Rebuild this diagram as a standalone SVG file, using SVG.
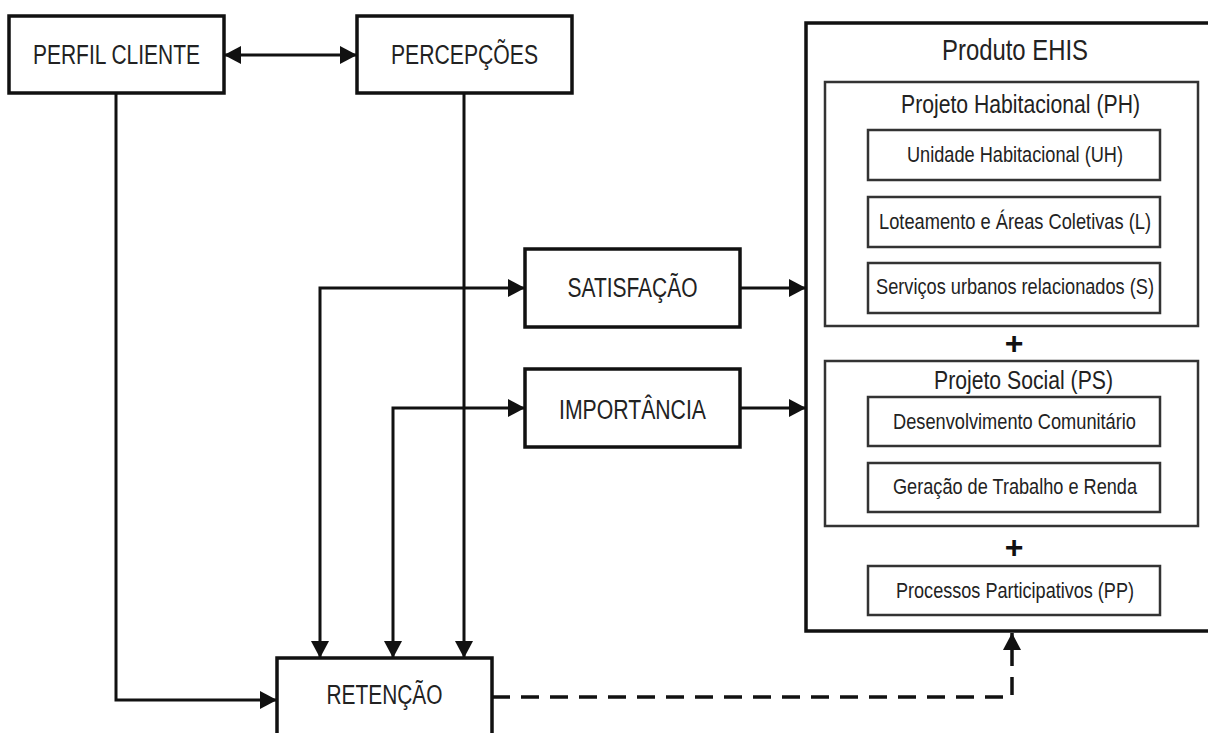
<svg xmlns="http://www.w3.org/2000/svg" width="1208" height="733" viewBox="0 0 1208 733">
<defs>
<marker id="arr" viewBox="0 0 17 18" refX="17" refY="9" markerWidth="17" markerHeight="18" markerUnits="userSpaceOnUse" orient="auto-start-reverse">
<path d="M0,0 L17,9 L0,18 Z" fill="#111"/>
</marker>
<style>
.box{fill:#fff;stroke:#111;stroke-width:3.5}
.ibox{fill:#fff;stroke:#333;stroke-width:2.5}
.big{font-family:"Liberation Sans",Arial,sans-serif;font-size:27px;fill:#222;text-anchor:middle}
.ttl{font-family:"Liberation Sans",Arial,sans-serif;font-size:30px;fill:#222;text-anchor:middle}
.sub{font-family:"Liberation Sans",Arial,sans-serif;font-size:25px;fill:#222;text-anchor:middle}
.sm{font-family:"Liberation Sans",Arial,sans-serif;font-size:21.5px;fill:#222;text-anchor:middle}
.plus{font-family:"Liberation Sans",Arial,sans-serif;font-size:32px;font-weight:bold;fill:#111;text-anchor:middle}
.ln{fill:none;stroke:#111;stroke-width:3}
.dash{fill:none;stroke:#111;stroke-width:3.5;stroke-dasharray:18 11}
</style>
</defs>
<rect width="1208" height="733" fill="#fff"/>

<g id="connectors">
<path class="ln" d="M224,55 L357,55" marker-start="url(#arr)" marker-end="url(#arr)"/>
<path class="ln" d="M116,93 L116,700 L277,700" marker-end="url(#arr)"/>
<path class="ln" d="M464,93 L464,658" marker-end="url(#arr)"/>
<path class="ln" d="M320,658 L320,288 L525,288" marker-start="url(#arr)" marker-end="url(#arr)"/>
<path class="ln" d="M393,658 L393,408 L525,408" marker-start="url(#arr)" marker-end="url(#arr)"/>
<path class="ln" d="M740,288 L806,288" marker-end="url(#arr)"/>
<path class="ln" d="M740,408 L806,408" marker-end="url(#arr)"/>
<path class="dash" d="M492,697 L1012,697 L1012,633" marker-end="url(#arr)"/>
</g>

<g id="perfil">
<rect class="box" x="9" y="16" width="215" height="77"/>
<text class="big" x="116.5" y="64" textLength="167" lengthAdjust="spacingAndGlyphs">PERFIL CLIENTE</text>
</g>
<g id="percepcoes">
<rect class="box" x="357" y="16" width="215" height="77"/>
<text class="big" x="464.5" y="64" textLength="147" lengthAdjust="spacingAndGlyphs">PERCEPÇÕES</text>
</g>
<g id="satisfacao">
<rect class="box" x="525" y="249" width="215" height="78"/>
<text class="big" x="632.5" y="297" textLength="130" lengthAdjust="spacingAndGlyphs">SATISFAÇÃO</text>
</g>
<g id="importancia">
<rect class="box" x="525" y="369" width="215" height="78"/>
<text class="big" x="632.5" y="419" textLength="147" lengthAdjust="spacingAndGlyphs">IMPORTÂNCIA</text>
</g>
<g id="retencao">
<rect class="box" x="277" y="658" width="215" height="90"/>
<text class="big" x="384.5" y="704" textLength="116" lengthAdjust="spacingAndGlyphs">RETENÇÃO</text>
</g>

<g id="produto">
<rect class="box" x="806" y="23" width="420" height="608"/>
<text class="ttl" x="1015" y="60" textLength="146" lengthAdjust="spacingAndGlyphs">Produto EHIS</text>
</g>
<g id="ph">
<rect class="ibox" x="825" y="82" width="373" height="244"/>
<text class="sub" x="1020.5" y="113" textLength="239" lengthAdjust="spacingAndGlyphs">Projeto Habitacional (PH)</text>
</g>
<g id="uh">
<rect class="ibox" x="868" y="130" width="292" height="50"/>
<text class="sm" x="1015" y="162" textLength="216" lengthAdjust="spacingAndGlyphs">Unidade Habitacional (UH)</text>
</g>
<g id="l">
<rect class="ibox" x="868" y="197" width="292" height="50"/>
<text class="sm" x="1015" y="229" textLength="272" lengthAdjust="spacingAndGlyphs">Loteamento e Áreas Coletivas (L)</text>
</g>
<g id="s">
<rect class="ibox" x="868" y="263" width="292" height="50"/>
<text class="sm" x="1015" y="294" textLength="278" lengthAdjust="spacingAndGlyphs">Serviços urbanos relacionados (S)</text>
</g>
<text class="plus" x="1014" y="354">+</text>
<g id="ps">
<rect class="ibox" x="825" y="361" width="373" height="165"/>
<text class="sub" x="1023.5" y="389" textLength="179" lengthAdjust="spacingAndGlyphs">Projeto Social (PS)</text>
</g>
<g id="dc">
<rect class="ibox" x="868" y="397" width="292" height="49"/>
<text class="sm" x="1014.5" y="429" textLength="243" lengthAdjust="spacingAndGlyphs">Desenvolvimento Comunitário</text>
</g>
<g id="gtr">
<rect class="ibox" x="868" y="463" width="292" height="49"/>
<text class="sm" x="1015" y="494" textLength="244" lengthAdjust="spacingAndGlyphs">Geração de Trabalho e Renda</text>
</g>
<text class="plus" x="1014" y="558">+</text>
<g id="pp">
<rect class="ibox" x="868" y="566" width="292" height="49"/>
<text class="sm" x="1015" y="598" textLength="238" lengthAdjust="spacingAndGlyphs">Processos Participativos (PP)</text>
</g>
</svg>
